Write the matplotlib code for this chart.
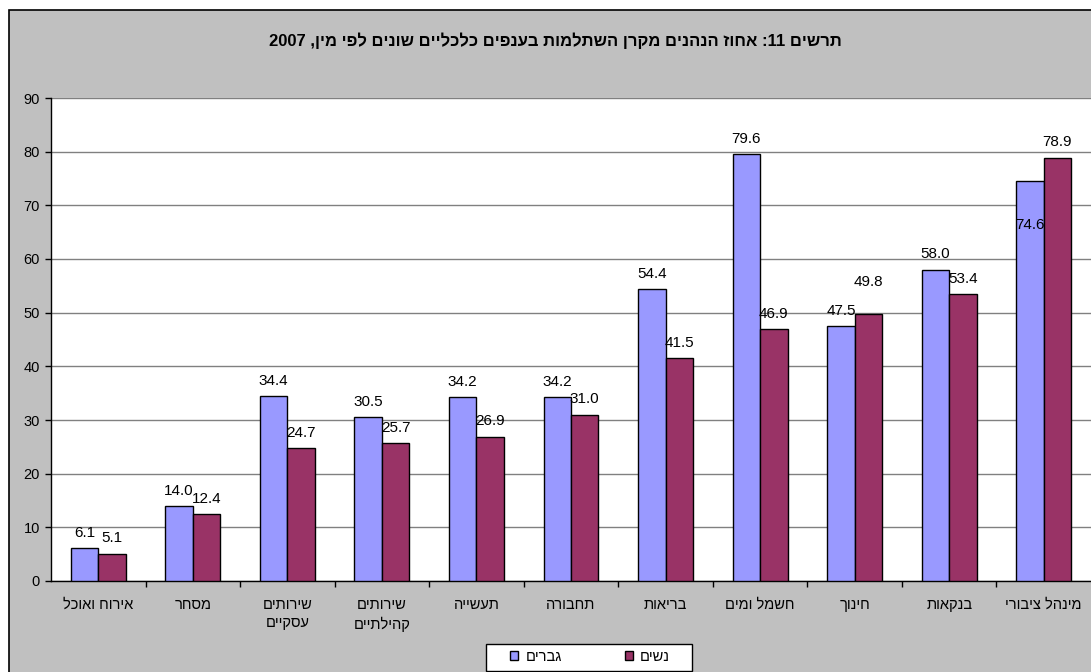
import re
import numpy as np
import matplotlib
matplotlib.use("Agg")
import matplotlib.pyplot as plt
from matplotlib.patches import Rectangle

plt.rcParams['font.family'] = ['Liberation Sans', 'DejaVu Sans']

# ---------------- data ----------------
title = "תרשים 11: אחוז הנהנים מקרן השתלמות בענפים כלכליים שונים לפי מין, 2007"
categories = ["אירוח ואוכל", "מסחר", "שירותים\nעסקיים", "שירותים\nקהילתיים", "תעשייה",
              "תחבורה", "בריאות", "חשמל ומים", "חינוך", "בנקאות", "מינהל ציבורי"]
men = [6.1, 14.0, 34.4, 30.5, 34.2, 34.2, 54.4, 79.6, 47.5, 58.0, 74.6]
women = [5.1, 12.4, 24.7, 25.7, 26.9, 31.0, 41.5, 46.9, 49.8, 53.4, 78.9]
series_names = ["גברים", "נשים"]
yticks = list(range(0, 91, 10))

# label offsets (points) – like the source, a couple of labels were moved
men_label_dy = [11] * 11
women_label_dy = [11] * 11
women_label_dy[8] = 23
men_label_dy[10] = -32

C_MEN = "#9999FF"
C_WOMEN = "#993366"


def vis(s):
    """visual (LTR) order for a right-to-left line, keeping numbers intact"""
    out = []
    for line in s.split("\n"):
        r = line[::-1]
        r = re.sub(r"\d+", lambda m: m.group(0)[::-1], r)
        out.append(r)
    return "\n".join(out)


W, H = 1091, 672
fig = plt.figure(figsize=(W / 100, H / 100), dpi=100, facecolor="white")

# grey chart area with black border
fig.patches.append(Rectangle((9 / W, -0.2), 1.5, 1.2 - 10 / H, transform=fig.transFigure,
                             facecolor="#C0C0C0", edgecolor="black", linewidth=1.2, zorder=-10))

ax = fig.add_axes([51 / W, (H - 581) / H, (W - 51) / W, (581 - 98) / H])
ax.set_facecolor("white")

x = np.arange(len(categories))
bw = 0.29
b1 = ax.bar(x - bw / 2, men, bw, color=C_MEN, edgecolor="black", linewidth=1, zorder=3,
            label=vis(series_names[0]))
b2 = ax.bar(x + bw / 2, women, bw, color=C_WOMEN, edgecolor="black", linewidth=1, zorder=3,
            label=vis(series_names[1]))

for rect, v, dy in zip(b1, men, men_label_dy):
    ax.annotate(f"{v:.1f}", (rect.get_x() + rect.get_width() / 2, v), xytext=(0, dy),
                textcoords="offset points", ha="center", va="center", fontsize=11, zorder=5)
for rect, v, dy in zip(b2, women, women_label_dy):
    ax.annotate(f"{v:.1f}", (rect.get_x() + rect.get_width() / 2, v), xytext=(0, dy),
                textcoords="offset points", ha="center", va="center", fontsize=11, zorder=5)

ax.set_xlim(-0.5, len(categories) - 0.5)
ax.set_ylim(0, 90)
ax.set_yticks(yticks)
ax.set_yticklabels([str(t) for t in yticks], fontsize=10.5)
ax.yaxis.grid(True, color="#808080", linewidth=1, zorder=0)
ax.set_axisbelow(True)

ax.set_xticks(x)
ax.set_xticklabels([vis(c) for c in categories], fontsize=10.5, linespacing=1.4)
ax.tick_params(axis="x", which="major", length=0, pad=12)
ax.set_xticks(np.arange(0.5, len(categories) - 0.5, 1), minor=True)
ax.tick_params(axis="x", which="minor", length=4, width=1, direction="out")
ax.tick_params(axis="y", length=4, width=1, direction="out", pad=4)

for s in ["top", "right"]:
    ax.spines[s].set_visible(False)
for s in ["left", "bottom"]:
    ax.spines[s].set_color("black")
    ax.spines[s].set_linewidth(1)

fig.text(555 / W, 1 - 41 / H, vis(title), ha="center", va="center",
         fontsize=12, fontweight="bold")

# legend
leg = fig.legend(handles=[b1, b2], loc="center", bbox_to_anchor=(590 / W, 1 - 657 / H),
                 ncol=2, frameon=False, fontsize=10.5, handlelength=0.55, handleheight=0.55,
                 handletextpad=0.5, columnspacing=4.3, borderpad=0.2)
fig.patches.append(Rectangle((486 / W, 1 - 671 / H), 206 / W, 27 / H, transform=fig.transFigure,
                             facecolor="white", edgecolor="black", linewidth=1, zorder=1))

fig.savefig("out.png", dpi=100, facecolor="white")
